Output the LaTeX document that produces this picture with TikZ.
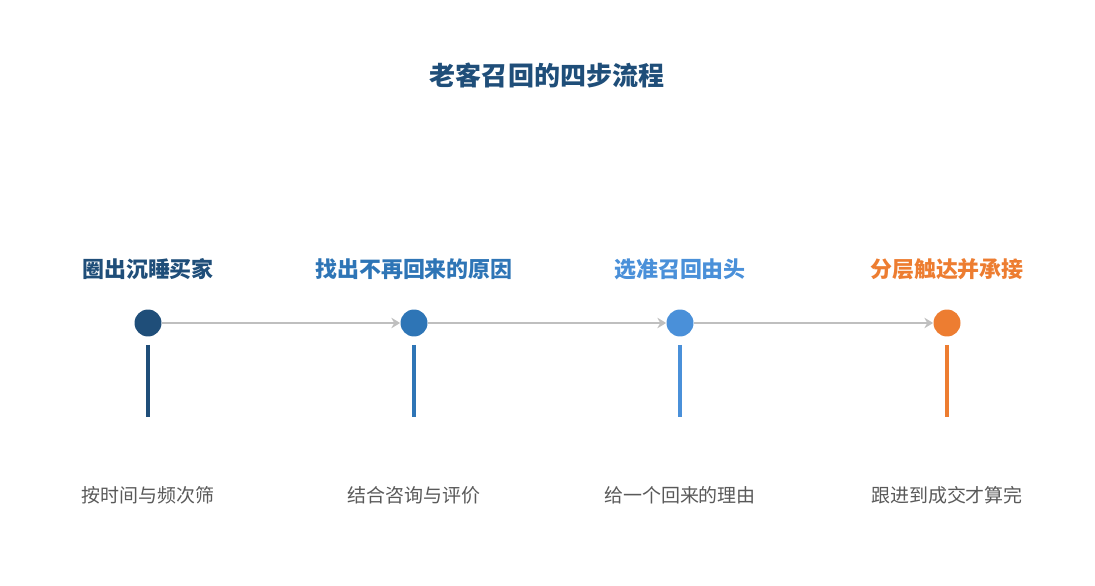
\documentclass[tikz,border=0pt]{standalone}
\usepackage{fontspec}
\newfontfamily\cjk{Noto Sans CJK SC}
\usetikzlibrary{arrows.meta, positioning}
\definecolor{stepA}{HTML}{1F4E79}
\definecolor{stepB}{HTML}{2E75B6}
\definecolor{stepC}{HTML}{4A90D9}
\definecolor{stepD}{HTML}{ED7D31}
\definecolor{linegray}{HTML}{BFBFBF}
\definecolor{textgray}{HTML}{595959}

\begin{document}
\begin{tikzpicture}[x=0.02cm, y=0.02cm, every node/.style={font=\cjk}]
        \useasboundingbox (0,0) rectangle (1095,585);
        % Title
        \node[font=\cjk\bfseries\fontsize{14.8}{16}\selectfont, text=stepA] (title) at (547,510) {老客召回的四步流程};

        % Steps
        \foreach \i/\x/\c/\head/\desc in {1/148/stepA/圈出沉睡买家/按时间与频次筛,
                2/414/stepB/找出不再回来的原因/结合咨询与评价,
                3/680/stepC/选准召回由头/给一个回来的理由,
                4/947/stepD/分层触达并承接/跟进到成交才算完} {
            \node[circle, fill=\c, minimum size=0.54cm, inner sep=0pt] (dot\i) at (\x,262) {};
            \node[font=\cjk\bfseries\fontsize{12.5}{14}\selectfont, text=\c] (head\i) at (\x,316) {\head};
            \coordinate (top\i) at (\x,240);
            \coordinate (bot\i) at (\x,168);
            \draw[\c, line width=2.2pt] (top\i) -- (bot\i);
            \node[font=\cjk\fontsize{10.8}{12}\selectfont, text=textgray] (desc\i) at (\x,90) {\desc};
        }

        % Connectors
        \foreach \a/\b in {1/2, 2/3, 3/4}
            \draw[-{Stealth[length=5pt, width=6pt]}, linegray, line width=1.6pt] (dot\a) -- (dot\b);
\end{tikzpicture}
\end{document}
